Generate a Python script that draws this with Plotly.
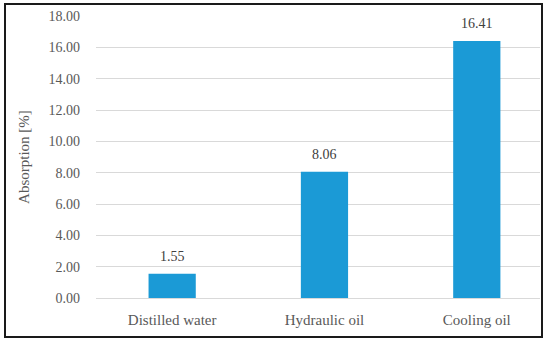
import plotly.graph_objects as go

categories = ["Distilled water", "Hydraulic oil", "Cooling oil"]
absorption = [1.55, 8.06, 16.41]
y_ticks = [0, 2, 4, 6, 8, 10, 12, 14, 16, 18]
y_tick_labels = ["%.2f" % v for v in y_ticks]

FONT = "Palatino Linotype, Book Antiqua, Palatino, Liberation Serif, serif"
TXT = "#595959"
BAR = "#1B9AD6"

W, H = 550, 345
L, R, T, B = 96, 10, 16, 47
pw, ph = W - L - R, H - T - B

def px_x(x):
    return (x - L) / pw

def px_y(y):
    return (H - B - y) / ph

fig = go.Figure()
fig.add_trace(go.Bar(
    x=categories, y=absorption, marker=dict(color=BAR, line=dict(width=0)),
    width=0.31, hoverinfo="skip",
))

for c, v in zip(categories, absorption):
    fig.add_annotation(x=c, y=v, text="%.2f" % v, showarrow=False,
                       yanchor="bottom", yshift=8,
                       font=dict(family=FONT, size=14, color="#404040"))

fig.add_shape(type="rect", xref="paper", yref="paper",
              x0=px_x(5), x1=px_x(542), y0=px_y(337), y1=px_y(4),
              line=dict(color="#1a1a1a", width=2), layer="above")

fig.update_layout(
    width=W, height=H,
    margin=dict(l=L, r=R, t=T, b=B, pad=0),
    paper_bgcolor="white", plot_bgcolor="white",
    font=dict(family=FONT, size=14, color=TXT),
    showlegend=False,
    bargap=0.69,
)
fig.update_xaxes(range=[-0.5, 2.415], showgrid=False, showline=False, ticks="",
                 ticklabelstandoff=11, tickfont=dict(size=15, color=TXT), fixedrange=True)
fig.update_yaxes(range=[0, 18], tickvals=y_ticks, ticktext=y_tick_labels,
                 showgrid=True, gridcolor="#D9D9D9", gridwidth=1,
                 zeroline=True, zerolinecolor="#D9D9D9", zerolinewidth=1,
                 showline=False, ticks="", ticklabelstandoff=15,
                 tickfont=dict(size=14, color=TXT),
                 title=dict(text="Absorption [%]", standoff=15,
                            font=dict(size=15, color=TXT)),
                 automargin=False, fixedrange=True)

fig.write_html("out.html", config={"displayModeBar": False},
               post_script="document.body.style.margin='0';")
